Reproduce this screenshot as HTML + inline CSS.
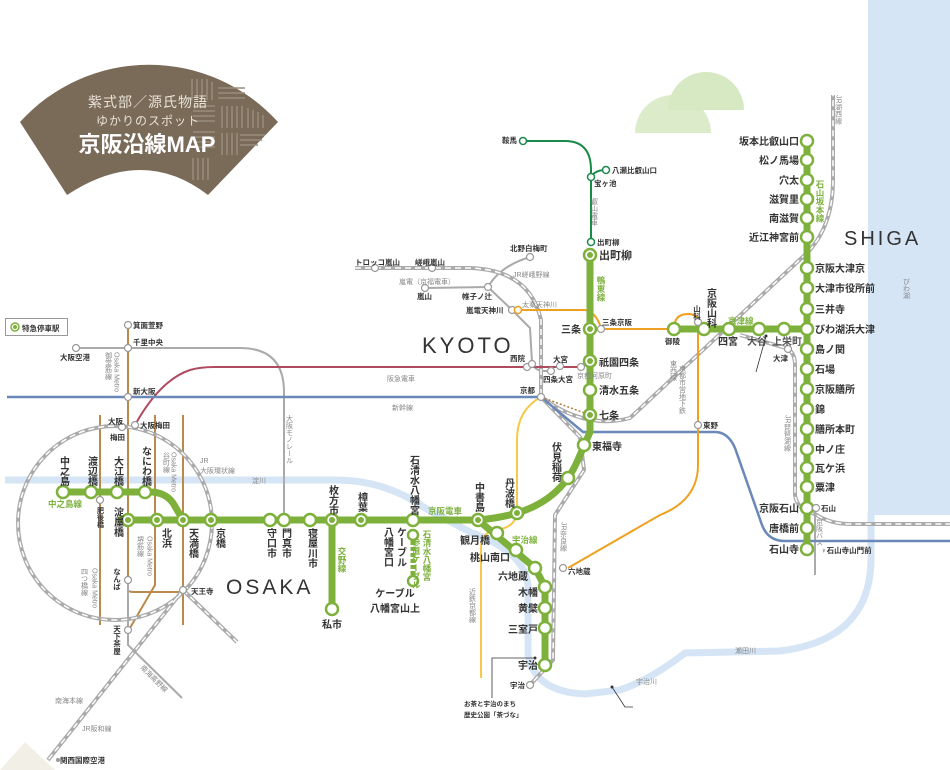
<!DOCTYPE html>
<html><head><meta charset="utf-8"><style>
html,body{margin:0;padding:0;background:#fff;}
svg{display:block;font-family:"Liberation Sans","Noto Sans CJK JP",sans-serif;}
.v{writing-mode:vertical-rl;}
.st{font-size:10px;font-weight:bold;fill:#333;}
.sm{font-size:7.5px;font-weight:bold;fill:#333;}
.ln{font-size:7px;fill:#888;}
.gr{font-size:8.5px;font-weight:bold;fill:#7db13c;}
</style></head><body>
<svg width="950" height="770" viewBox="0 0 950 770" xmlns="http://www.w3.org/2000/svg">
<!-- lake & rivers -->
<rect x="868" y="0" width="82" height="515" fill="#d5e5f5"/>
<path d="M5,480 L335,480 Q385,480 425,508 L470,532 Q525,552 528,585 L528,655 Q535,692 585,694 L620,690 Q650,680 685,653 L780,651 Q870,640 871,560 L871,512" fill="none" stroke="#d5e5f5" stroke-width="7"/>
<!-- hills -->
<path d="M668,110 A38,38 0 0 1 744,110 Z" fill="#d6e9c2"/>
<path d="M635,133 A38,38 0 0 1 711,133 Z" fill="#d6e9c2" opacity="0.85"/>
<path d="M0,770 L25,742 L55,770 Z" fill="#f2efe6"/>
<!-- fan -->
<path d="M20,122 A174,174 0 0 1 278,122 L208,195 Q143,145 67,195 Z" fill="#7a6a58"/>
<g stroke="#9a8c7c" stroke-width="1.5">
<path d="M192,79 L192,100 M197,79 L197,100 M202,79 L202,100 M207,79 L207,100 M212,82 L212,100"/>
<path d="M218,88 L245,88 M218,93 L245,93 M218,98 L245,98"/>
<path d="M222,106 L222,128 M227,106 L227,128 M232,106 L232,128 M237,106 L237,128 M242,106 L242,128"/>
<path d="M193,106 L215,106 M193,111 L215,111 M193,116 L215,116 M193,121 L215,121"/>
<path d="M248,108 L248,128 M253,110 L253,128 M258,112 L258,128 M263,115 L263,128"/>
<path d="M193,132 L215,132 M193,137 L215,137 M193,142 L215,142 M193,147 L215,147"/>
<path d="M222,133 L222,155 M227,133 L227,155 M232,133 L232,155 M237,133 L237,155"/>
<path d="M193,158 L193,180 M198,158 L198,180 M203,158 L203,180 M208,158 L208,180"/>
<path d="M240,135 L265,135 M240,140 L262,140 M240,145 L258,145"/>
</g>
<text x="148" y="107" font-size="14" fill="#e8e2d8" text-anchor="middle" letter-spacing="1">紫式部／源氏物語</text>
<text x="148" y="125" font-size="12" fill="#e8e2d8" text-anchor="middle" letter-spacing="1">ゆかりのスポット</text>
<text x="147" y="152" font-size="22" font-weight="bold" fill="#fff" text-anchor="middle">京阪沿線MAP</text>
<!-- legend -->
<rect x="5.5" y="318.5" width="62" height="17" fill="#fff" stroke="#999"/>
<circle cx="15" cy="327" r="4" fill="#fff" stroke="#7db13c" stroke-width="1.5"/><circle cx="15" cy="327" r="2" fill="#7db13c"/>
<text x="22" y="331" class="sm">特急停車駅</text>

<!-- metro brown lines -->
<g fill="none" stroke="#b98a4c" stroke-width="2">
<path d="M100,415 L100,625"/>
<path d="M128,325 L128,590 Q128,592 135,592 L183,592"/>
<path d="M155,415 L155,585 L130,628"/>
<path d="M183,415 L183,625"/>
</g>
<!-- gray solid lines -->
<g fill="none" stroke="#aaa" stroke-width="2">
<path d="M76,348 L240,348 Q284,348 284,392 L284,520"/>
<path d="M128,580 L128,645 L182,698"/>
<path d="M488,287 L512,310 L530,328 L532,362 Q534,371 545,371 L553,371"/>
<path d="M425,288 L488,287 Q500,266 530,257"/>
<path d="M815,510 L815,575"/>
</g>
<!-- JR dashed -->
<g fill="none" stroke="#aaa" stroke-width="4">
<circle cx="115" cy="523" r="97"/>
<path d="M183,590 L48,760"/><path d="M183,590 L237,642"/>
<path d="M355,268 L470,268 Q530,270 541,320 L541,397"/>
<path d="M541,397 L580,437 L584,470 L555,515 L553,660 L530,685"/>
<path d="M541,397 Q585,430 630,418 L808,252 Q833,225 833,180 L833,95"/>
<path d="M740,335 L786,348 Q795,352 795,365 L795,495 Q797,510 815,514 Q830,524 850,524 L950,524"/>
</g>
<g fill="none" stroke="#fff" stroke-width="1.5" stroke-dasharray="6 4">
<circle cx="115" cy="523" r="97"/>
<path d="M183,590 L48,760"/><path d="M183,590 L237,642"/>
<path d="M355,268 L470,268 Q530,270 541,320 L541,397"/>
<path d="M541,397 L580,437 L584,470 L555,515 L553,660 L530,685"/>
<path d="M541,397 Q585,430 630,418 L808,252 Q833,225 833,180 L833,95"/>
<path d="M740,335 L786,348 Q795,352 795,365 L795,495 Q797,510 815,514 Q830,524 850,524 L950,524"/>
</g>
<!-- hankyu -->
<path d="M135,425 Q160,380 190,370 Q200,367 215,367 L581,367" fill="none" stroke="#b04a5e" stroke-width="2"/>
<!-- shinkansen -->
<path d="M7,397 L541,397 L583,432 L715,432 Q728,432 735,448 L762,525 Q768,541 785,541 L950,541" fill="none" stroke="#6a88b8" stroke-width="2.5"/>
<!-- kintetsu yellow -->
<path d="M541,397 Q517,410 517,440 L517,513 Q515,528 495,530 Q481,533 481,548 L481,678" fill="none" stroke="#f7c948" stroke-width="2"/>
<!-- tozai orange -->
<g fill="none" stroke="#f0a020" stroke-width="2">
<path d="M518,310 L585,310 Q595,312 600,325"/>
<path d="M601,329 L674,329"/>
<path d="M674,329 Q674,314 688,314 Q698,314 698,322 L698,465 Q698,500 660,515 L568,568"/>
</g>
<path d="M541,397 L590,415" stroke="#b07a3a" stroke-width="1.5" stroke-dasharray="2 2" fill="none"/>
<!-- eizan -->
<path d="M523,141 L565,141 Q591,141 591,170 L591,242 M591,177 Q595,170 606,170" fill="none" stroke="#1a8a4a" stroke-width="2"/>
<g fill="#fff" stroke="#1a8a4a" stroke-width="1.5">
<circle cx="523" cy="141" r="3.5"/><circle cx="606" cy="170" r="3.5"/><circle cx="591" cy="177" r="3.5"/><circle cx="591" cy="242" r="3.5"/>
</g>
<!-- Keihan green -->
<g fill="none" stroke="#7db13c" stroke-width="7">
<path d="M63,492 L150,492 Q165,492 173,503 L183,520"/>
<path d="M118,520 L478,520 Q500,518 517,513 Q560,500 577,462 L590,432 L590,255"/>
<path d="M332,520 L332,609"/>
<path d="M478,520 L535,568 L545,587 L545,665"/>
<path d="M674,329 L807,329"/>
<path d="M807,141 L807,549"/>
</g>
<path d="M413,535 L413,581" stroke="#7db13c" stroke-width="5" stroke-dasharray="4 2"/>
<!-- green stations -->
<g fill="#fff" stroke="#7db13c" stroke-width="2.5">
<circle cx="63" cy="492" r="6"/><circle cx="91" cy="492" r="6"/><circle cx="117" cy="492" r="6"/><circle cx="145" cy="492" r="6"/>
<circle cx="128" cy="520" r="6"/><circle cx="157" cy="520" r="6"/><circle cx="183" cy="520" r="6"/><circle cx="211" cy="520" r="6"/>
<circle cx="270" cy="520" r="6"/><circle cx="284" cy="520" r="6"/><circle cx="310" cy="520" r="6"/><circle cx="332" cy="520" r="6"/>
<circle cx="361" cy="520" r="6"/><circle cx="413" cy="520" r="6"/><circle cx="478" cy="520" r="6"/><circle cx="517" cy="513" r="6"/>
<circle cx="568" cy="478" r="6"/><circle cx="584" cy="445" r="6"/><circle cx="590" cy="415" r="6"/><circle cx="590" cy="390" r="6"/>
<circle cx="590" cy="361" r="6"/><circle cx="590" cy="329" r="6"/><circle cx="590" cy="255" r="6"/>
<circle cx="332" cy="609" r="6"/><circle cx="413" cy="535" r="5"/><circle cx="413" cy="581" r="5"/>
<circle cx="497" cy="533" r="6"/><circle cx="516" cy="550" r="6"/><circle cx="535" cy="568" r="6"/><circle cx="545" cy="587" r="6"/>
<circle cx="545" cy="608" r="6"/><circle cx="545" cy="628" r="6"/><circle cx="545" cy="665" r="6"/>
<circle cx="674" cy="329" r="6"/><circle cx="704" cy="329" r="6"/><circle cx="729" cy="329" r="6"/><circle cx="759" cy="329" r="6"/><circle cx="784" cy="329" r="6"/>
<circle cx="807" cy="141" r="6"/><circle cx="807" cy="160" r="6"/><circle cx="807" cy="180" r="6"/><circle cx="807" cy="199" r="6"/><circle cx="807" cy="218" r="6"/><circle cx="807" cy="237" r="6"/>
<circle cx="807" cy="268" r="6"/><circle cx="807" cy="288" r="6"/><circle cx="807" cy="309" r="6"/><circle cx="807" cy="329" r="6"/><circle cx="807" cy="349" r="6"/>
<circle cx="807" cy="369" r="6"/><circle cx="807" cy="389" r="6"/><circle cx="807" cy="409" r="6"/><circle cx="807" cy="429" r="6"/><circle cx="807" cy="449" r="6"/>
<circle cx="807" cy="468" r="6"/><circle cx="807" cy="487" r="6"/><circle cx="807" cy="508" r="6"/><circle cx="807" cy="528" r="6"/><circle cx="807" cy="549" r="6"/>
</g>
<g fill="#7db13c">
<circle cx="128" cy="520" r="3"/><circle cx="157" cy="520" r="3"/><circle cx="183" cy="520" r="3"/><circle cx="211" cy="520" r="3"/>
<circle cx="332" cy="520" r="3"/><circle cx="361" cy="520" r="3"/><circle cx="478" cy="520" r="3"/><circle cx="517" cy="513" r="3"/>
<circle cx="590" cy="415" r="3"/><circle cx="590" cy="361" r="3"/><circle cx="590" cy="329" r="3"/><circle cx="590" cy="255" r="3"/>
</g>
<!-- gray small stations -->
<g fill="#fff" stroke="#999" stroke-width="1.2">
<circle cx="128" cy="325" r="3.5"/><circle cx="76" cy="348" r="3.5"/><circle cx="128" cy="348" r="3.5"/><circle cx="128" cy="397" r="3.5"/>
<circle cx="122" cy="427" r="3.5"/><circle cx="135" cy="425" r="3.5"/><circle cx="100" cy="500" r="3.5"/><circle cx="128" cy="580" r="3.5"/>
<circle cx="183" cy="590" r="3.5"/><circle cx="128" cy="630" r="3.5"/>
<circle cx="375" cy="268" r="3.5"/><circle cx="432" cy="268" r="3.5"/><circle cx="530" cy="257" r="3.5"/><circle cx="425" cy="288" r="3.5"/>
<circle cx="488" cy="287" r="3.5"/><circle cx="512" cy="310" r="3.5"/><circle cx="527" cy="367" r="3.5"/><circle cx="532" cy="364" r="3.5"/>
<circle cx="551" cy="371" r="3.5"/><circle cx="560" cy="366" r="3.5"/><circle cx="581" cy="367" r="3.5"/><circle cx="541" cy="397" r="3.5"/>
<circle cx="601" cy="329" r="3.5"/><circle cx="698" cy="322" r="3.5"/><circle cx="698" cy="425" r="3.5"/><circle cx="563" cy="568" r="3.5"/>
<circle cx="530" cy="685" r="3.5"/><circle cx="788" cy="349" r="3.5"/><circle cx="816" cy="508" r="3.5"/>
</g>
<circle cx="518" cy="310" r="3.5" fill="#fff" stroke="#f0a020" stroke-width="1.5"/>
<circle cx="58" cy="760" r="2" fill="#999"/>

<!-- region names -->
<text x="226" y="594" font-size="21" fill="#333" letter-spacing="3">OSAKA</text>
<text x="422" y="353" font-size="22" fill="#333" letter-spacing="3">KYOTO</text>
<text x="844" y="245" font-size="20" fill="#333" letter-spacing="3">SHIGA</text>

<!-- Osaka labels -->
<g class="st">
<text x="63" y="456" class="v">中之島</text><text x="91" y="456" class="v">渡辺橋</text><text x="117" y="456" class="v">大江橋</text><text x="145" y="446" class="v">なにわ橋</text>
<text x="117" y="507" class="v">淀屋橋</text><text x="165" y="528" class="v">北浜</text><text x="192" y="528" class="v">天満橋</text><text x="219" y="528" class="v">京橋</text>
<text x="270" y="528" class="v">守口市</text><text x="285" y="528" class="v">門真市</text><text x="311" y="528" class="v">寝屋川市</text>
<text x="332" y="485" class="v">枚方市</text><text x="361" y="492" class="v">樟葉</text><text x="413" y="455" class="v">石清水八幡宮</text>
<text x="478" y="482" class="v">中書島</text><text x="508" y="478" class="v">丹波橋</text><text x="555" y="442" class="v">伏見稲荷</text>
<text x="400" y="527" class="v">ケーブル</text><text x="387" y="527" class="v">八幡宮口</text>
<text x="332" y="628" text-anchor="middle">私市</text>
<text x="395" y="597" text-anchor="middle">ケーブル</text><text x="395" y="612" text-anchor="middle">八幡宮山上</text>
<text x="490" y="544" text-anchor="end">観月橋</text><text x="510" y="561" text-anchor="end">桃山南口</text><text x="528" y="580" text-anchor="end">六地蔵</text>
<text x="538" y="596" text-anchor="end">木幡</text><text x="538" y="612" text-anchor="end">黄檗</text><text x="538" y="633" text-anchor="end">三室戸</text><text x="538" y="669" text-anchor="end">宇治</text>
<text x="599" y="259" font-size="11">出町柳</text><text x="581" y="333" text-anchor="end">三条</text><text x="599" y="366">祇園四条</text>
<text x="599" y="394">清水五条</text><text x="599" y="419">七条</text><text x="592" y="450">東福寺</text>
<text x="710" y="288" class="v">京阪山科</text><text x="718" y="345">四宮</text><text x="747" y="345" fill="#555">大谷</text><text x="772" y="345" fill="#555">上栄町</text>
</g>
<g class="st" text-anchor="end" font-size="9.5">
<text x="799" y="145">坂本比叡山口</text><text x="799" y="164">松ノ馬場</text><text x="799" y="184">穴太</text><text x="799" y="203">滋賀里</text><text x="799" y="222">南滋賀</text><text x="799" y="241">近江神宮前</text>
<text x="799" y="512">京阪石山</text><text x="799" y="532">唐橋前</text><text x="799" y="553">石山寺</text>
</g>
<g class="st" font-size="9.5">
<text x="815" y="272">京阪大津京</text><text x="815" y="292">大津市役所前</text><text x="815" y="313">三井寺</text><text x="815" y="333">びわ湖浜大津</text>
<text x="815" y="353">島ノ関</text><text x="815" y="373">石場</text><text x="815" y="393">京阪膳所</text><text x="815" y="413">錦</text>
<text x="815" y="433">膳所本町</text><text x="815" y="453">中ノ庄</text><text x="815" y="472">瓦ケ浜</text><text x="815" y="491">粟津</text>
</g>
<!-- green line names -->
<g class="gr">
<text x="48" y="507">中之島線</text><text x="342" y="547" class="v">交野線</text><text x="428" y="514">京阪電車</text>
<text x="512" y="543">宇治線</text><text x="601" y="276" class="v">鴨東線</text><text x="820" y="180" class="v">石山坂本線</text>
<text x="728" y="324">京津線</text><text x="427" y="530" class="v">石清水八幡宮</text><text x="416" y="538" class="v">参道ケーブル</text>
</g>
<!-- small labels -->
<g class="sm">
<text x="133" y="328">箕面萱野</text><text x="133" y="345">千里中央</text><text x="60" y="360">大阪空港</text><text x="133" y="394">新大阪</text>
<text x="108" y="424">大阪</text><text x="140" y="428">大阪梅田</text><text x="110" y="440">梅田</text><text x="100" y="507" class="v" font-size="7">肥後橋</text>
<text x="117" y="568" class="v">なんば</text><text x="191" y="594">天王寺</text><text x="117" y="625" class="v">天下茶屋</text><text x="60" y="763">関西国際空港</text>
<text x="355" y="265">トロッコ嵐山</text><text x="415" y="265">嵯峨嵐山</text><text x="510" y="251">北野白梅町</text><text x="417" y="299">嵐山</text>
<text x="462" y="299">帷子ノ辻</text><text x="466" y="313">嵐電天神川</text><text x="510" y="361">西院</text><text x="553" y="362">大宮</text>
<text x="543" y="382">四条大宮</text><text x="520" y="393">京都</text><text x="602" y="325">三条京阪</text><text x="665" y="344">御陵</text>
<text x="697" y="305" class="v">山科</text><text x="703" y="428">東野</text><text x="568" y="574">六地蔵</text><text x="510" y="688">宇治</text>
<text x="773" y="361">大津</text><text x="821" y="511">石山</text><text x="502" y="143">鞍馬</text><text x="612" y="173">八瀬比叡山口</text>
<text x="594" y="186">宝ヶ池</text><text x="597" y="245">出町柳</text><text x="821" y="553">♀石山寺山門前</text>
<text x="464" y="706" font-size="6.5">お茶と宇治のまち</text><text x="464" y="717" font-size="6.5">歴史公園「茶づな」</text>
</g>
<g class="ln">
<text x="116" y="352" class="v">Osaka Metro</text><text x="108" y="352" class="v">御堂筋線</text>
<text x="173" y="452" class="v">Osaka Metro</text><text x="166" y="452" class="v">谷町線</text>
<text x="149" y="536" class="v">Osaka Metro</text><text x="140" y="536" class="v">堺筋線</text>
<text x="94" y="568" class="v">Osaka Metro</text><text x="84" y="568" class="v">四つ橋線</text>
<text x="200" y="463">JR</text><text x="200" y="473">大阪環状線</text><text x="252" y="483">淀川</text>
<text x="289" y="415" class="v">大阪モノレール</text><text x="387" y="381">阪急電車</text><text x="392" y="410">新幹線</text>
<text x="399" y="284">嵐電（京福電車）</text><text x="513" y="277">JR嵯峨野線</text><text x="522" y="307">太秦天神川</text>
<text x="577" y="378">京都河原町</text><text x="594" y="198" class="v">叡山電車</text><text x="682" y="365" class="v">京都市営地下鉄</text>
<text x="673" y="360" class="v">東西線</text><text x="563" y="522" class="v">JR奈良線</text><text x="472" y="588" class="v">近鉄京都線</text>
<text x="787" y="415" class="v">JR琵琶湖線</text><text x="838" y="95" class="v">JR湖西線</text><text x="906" y="278" class="v">びわ湖</text>
<text x="819" y="518" class="v">京阪バス</text><text x="735" y="653">瀬田川</text><text x="636" y="684">宇治川</text>
<text x="55" y="703">南海本線</text><text x="82" y="731">JR阪和線</text><text x="140" y="668" transform="rotate(45 140 668)">南海高野線</text>
</g>
<!-- pointers -->
<g stroke="#333" stroke-width="0.8" fill="none">
<path d="M535,658 L492,658 L492,698"/><path d="M612,687 L625,707 L633,707"/><path d="M756,372 L766,336"/>
</g>
<circle cx="535" cy="658" r="1.5" fill="#333"/><circle cx="612" cy="687" r="1.5" fill="#333"/><circle cx="766" cy="336" r="1.5" fill="#333"/>
</svg>
</body></html>
